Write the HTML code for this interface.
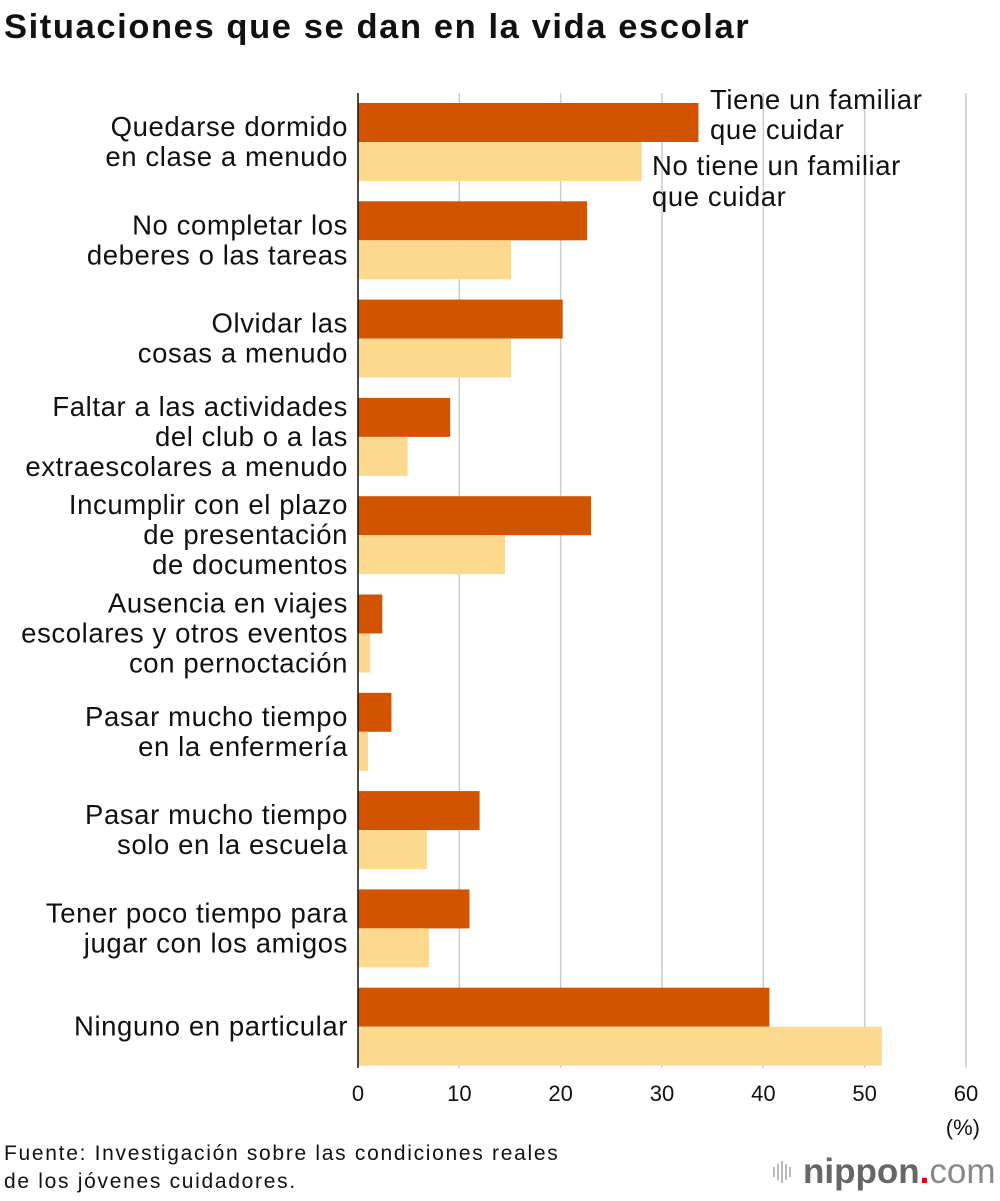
<!DOCTYPE html>
<html><head><meta charset="utf-8"><style>
body{margin:0;width:1000px;height:1196px;background:#fff;font-family:"Liberation Sans",Arial,sans-serif;overflow:hidden;position:relative}
svg text{font-family:"Liberation Sans",Arial,sans-serif}
</style></head><body>
<svg id="chart" width="1000" height="1196" xmlns="http://www.w3.org/2000/svg">
<text x="4" y="38" font-size="34.5" font-weight="bold" letter-spacing="1.6" fill="#111">Situaciones que se dan en la vida escolar</text>
<g id="grid"></g><g id="bars"></g><g id="labels"></g>
<line x1="358" y1="93" x2="358" y2="1068" stroke="#111" stroke-width="1.5"/>
<g font-size="27.5" letter-spacing="0.6" fill="#111">
<text x="710" y="109">Tiene un familiar</text>
<text x="710" y="139">que cuidar</text>
<text x="652" y="175">No tiene un familiar</text>
<text x="652" y="206">que cuidar</text>
</g>
<text x="980" y="1135" font-size="22" text-anchor="end" fill="#111">(%)</text>
<text x="4" y="1160" font-size="21" letter-spacing="1.7" fill="#111">Fuente: Investigación sobre las condiciones reales</text>
<text x="4" y="1188" font-size="21" letter-spacing="1.7" fill="#111">de los jóvenes cuidadores.</text>
<g>
<g fill="#bbb"><rect x="773" y="1167" width="2" height="10"/><rect x="777" y="1164" width="2" height="16"/><rect x="781" y="1161" width="2" height="22"/><rect x="785" y="1164" width="2" height="16"/><rect x="789" y="1167" width="2" height="10"/></g>
<text x="803" y="1183" font-size="35" font-weight="bold" fill="#666">nippon<tspan fill="#e60012">.</tspan><tspan font-weight="normal" fill="#888">com</tspan></text>
</g>
</svg>
<script>
const categories=[["Quedarse dormido","en clase a menudo"],["No completar los","deberes o las tareas"],["Olvidar las","cosas a menudo"],["Faltar a las actividades","del club o a las","extraescolares a menudo"],["Incumplir con el plazo","de presentación","de documentos"],["Ausencia en viajes","escolares y otros eventos","con pernoctación"],["Pasar mucho tiempo","en la enfermería"],["Pasar mucho tiempo","solo en la escuela"],["Tener poco tiempo para","jugar con los amigos"],["Ninguno en particular"]];
const caresValues=[33.6,22.6,20.2,9.1,23.0,2.4,3.3,12.0,11.0,40.6];
const notCaresValues=[28.0,15.1,15.1,4.9,14.5,1.2,1.0,6.8,7.0,51.7];
const xTicks=[0,10,20,30,40,50,60];
const NS="http://www.w3.org/2000/svg";
const x=v=>358+v*(608/60);
const yTop=i=>103+i*98.3;
function mk(t,a,p){const e=document.createElementNS(NS,t);for(const k in a)e.setAttribute(k,a[k]);p.appendChild(e);return e;}
const grid=document.getElementById('grid'),bars=document.getElementById('bars'),labels=document.getElementById('labels');
xTicks.forEach(t=>{
 if(t>0){const l=mk('line',{x1:x(t),x2:x(t),y1:93,y2:1068,stroke:'#ccc','stroke-width':1.5},grid);
 
 }
 const tx=mk('text',{x:x(t),y:1101,'font-size':22,'text-anchor':'middle',fill:'#111'},grid);tx.textContent=t;
 
 
});
categories.forEach((c,i)=>{
 const y0=yTop(i);
 const b1=mk('rect',{x:358,y:y0,width:x(caresValues[i])-358,height:39,fill:'#d35400'},bars);
 
 
 const b2=mk('rect',{x:358,y:y0+39,width:x(notCaresValues[i])-358,height:39,fill:'#fdd990'},bars);
 
 
 const mid=y0+39, n=c.length, lh=30;
 const t=mk('text',{x:348,'font-size':27.5,'letter-spacing':0.6,'text-anchor':'end',fill:'#111'},labels);
 
 
 c.forEach((line,j)=>{const s=mk('tspan',{x:348,y:mid-(n-1)*lh/2+j*lh+9},t);s.textContent=line;});
});
</script>
</body></html>
